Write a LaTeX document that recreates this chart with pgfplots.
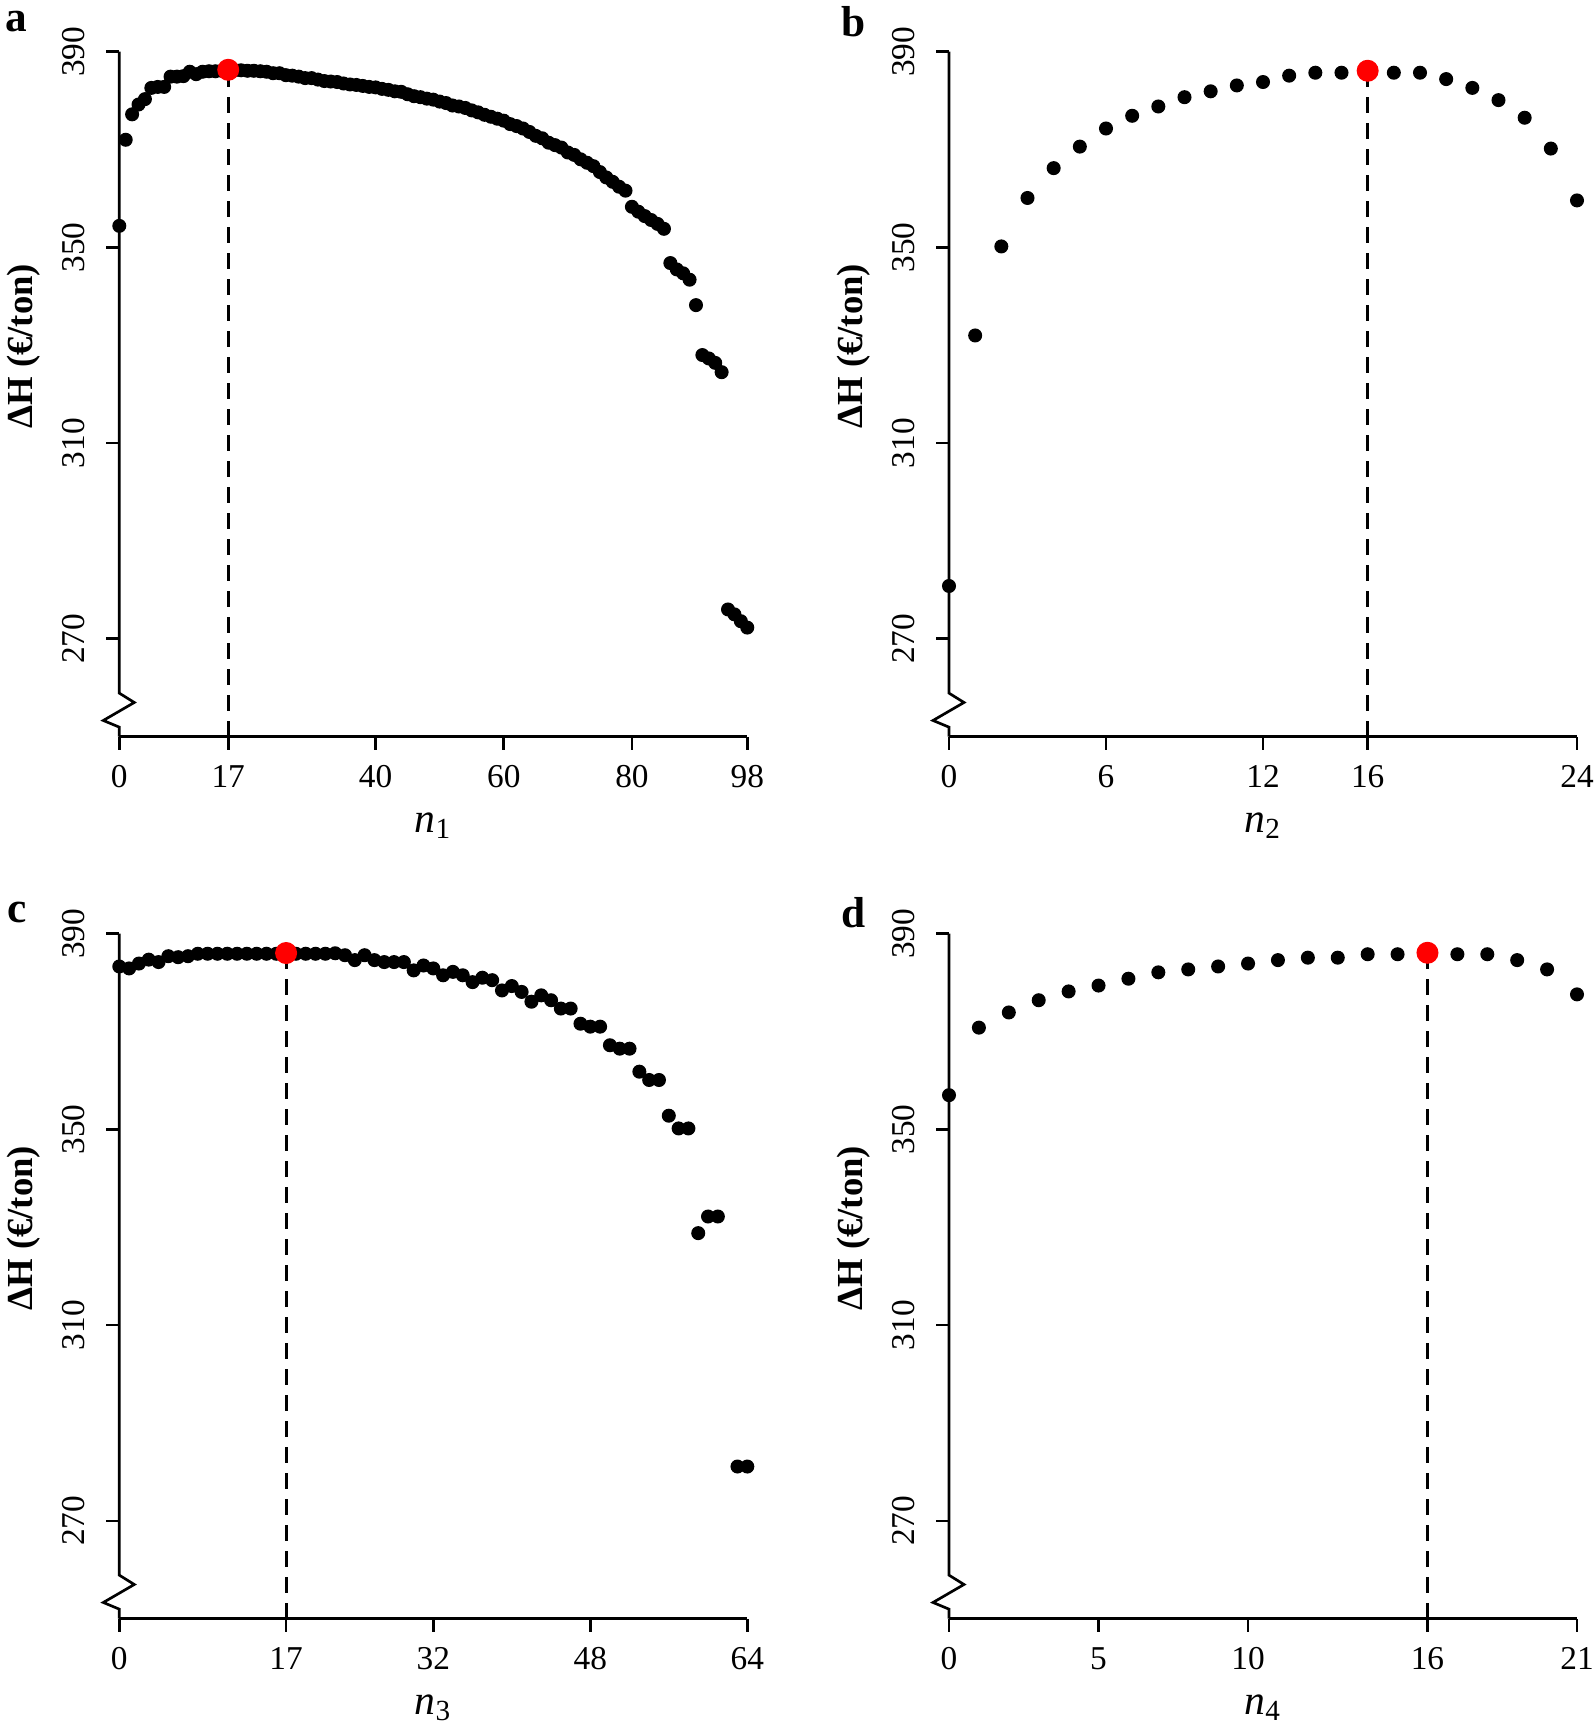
\documentclass[border=0pt]{standalone}
\usepackage{fontspec}
\setmainfont{Liberation Serif}
\usepackage{pgfplots}
\pgfplotsset{compat=1.18}

\pgfplotsset{
 panel/.style={
   scale only axis, width=188.4pt, height=205.5pt,
   ymin=250, ymax=390, ytick={270,310,350,390},
   enlargelimits=false, clip=false,
   axis x line=bottom, axis y line=left,
   axis line style={-, line width=0.8pt},
   y axis line style={draw=none},
   every tick/.style={black, line width=0.8pt},
   tick align=outside, major tick length=3.9pt,
   /pgf/number format/assume math mode=true,
   tick label style={font=\fontsize{10}{12}\selectfont},
   yticklabel style={rotate=90, anchor=south, inner xsep=0pt, inner ysep=6.2pt},
   xticklabel style={anchor=north, inner xsep=0pt, inner ysep=4.6pt},
   xlabel style={font=\fontsize{12.5}{14}\selectfont, at={(axis description cs:0.5,-0.13)}, anchor=center},
   ylabel style={font=\bfseries\fontsize{11}{13}\selectfont, at={(axis description cs:-0.152,0.57)}, anchor=center},
   ylabel={ΔH (€/ton)},
 },
 blk/.style={only marks, mark=*, mark size=1.9pt, black, mark options={draw=black, fill=black}},
 redpt/.style={only marks, mark=*, mark size=3.1pt, red, mark options={draw=red, fill=red}},
 vline/.style={black, line width=0.85pt, dash pattern=on 4.8pt off 3pt, no marks},
}
\newcommand{\brk}{\draw[line width=0.8pt] (axis cs:0,390) -- (axis cs:0,258.9) -- ++(4.5pt,-2.8pt) -- ++(-9.3pt,-5.4pt) -- ++(4.8pt,-2.0pt) -- (axis cs:0,250);}

\begin{document}
\begin{tikzpicture}
\path[use as bounding box] (0,0) rectangle (478.2pt,519.6pt);

% ---------- a ----------
\begin{axis}[panel, at={(35.79pt,298.59pt)}, anchor=south west,
  xmin=0, xmax=98, xtick={0,17,40,60,80,98},
  xlabel={\textit{n}\textsubscript{1}}]
\brk
\addplot[vline] coordinates {(17,250) (17,386.3)};
\addplot[blk] coordinates {
(0,354.4) (1,372.0) (2,377.2) (3,379.2) (4,380.3) (5,382.6) (6,382.8) (7,382.8)
(8,384.9) (9,384.9) (10,385.0) (11,385.9) (12,385.4) (13,385.9) (14,386.0) (15,386.0)
(16,386.1) (18,386.2) (19,386.2) (20,386.1) (21,386.1) (22,386.0) (23,385.9)
(24,385.6) (25,385.6) (26,385.2) (27,385.1) (28,384.9) (29,384.6) (30,384.6) (31,384.3)
(32,384.0) (33,383.9) (34,383.8) (35,383.5) (36,383.3) (37,383.2) (38,383.0) (39,382.8)
(40,382.7) (41,382.4) (42,382.2) (43,381.9) (44,381.8) (45,381.3) (46,380.9) (47,380.7)
(48,380.4) (49,380.2) (50,379.8) (51,379.5) (52,379.0) (53,378.8) (54,378.5) (55,378.0)
(56,377.6) (57,377.1) (58,376.7) (59,376.3) (60,375.9) (61,375.2) (62,374.8) (63,374.3)
(64,373.6) (65,372.8) (66,372.3) (67,371.4) (68,370.9) (69,370.4) (70,369.4) (71,368.9)
(72,368.0) (73,367.3) (74,366.6) (75,365.4) (76,364.3) (77,363.4) (78,362.4) (79,361.6)
(80,358.3) (81,357.3) (82,356.4) (83,355.6) (84,354.8) (85,353.8)
(86,346.8) (87,345.5) (88,344.7) (89,343.4) (90,338.2)
(91,328.0) (92,327.3) (93,326.4) (94,324.5)
(95,276.0) (96,275.0) (97,273.6) (98,272.3)};
\addplot[redpt] coordinates {(17,386.3)};
\end{axis}

% ---------- b ----------
\begin{axis}[panel, at={(284.7pt,298.59pt)}, anchor=south west,
  xmin=0, xmax=24, xtick={0,6,12,16,24},
  xlabel={\textit{n}\textsubscript{2}}]
\brk
\addplot[vline] coordinates {(16,250) (16,386.1)};
\addplot[blk] coordinates {
(0,280.8) (1,332.0) (2,350.2) (3,360.1) (4,366.2) (5,370.6) (6,374.3) (7,376.9)
(8,378.8) (9,380.7) (10,381.9) (11,383.1) (12,383.8) (13,385.1) (14,385.7) (15,385.7)
(17,385.7) (18,385.7) (19,384.4) (20,382.6) (21,380.1) (22,376.5) (23,370.2) (24,359.6)};
\addplot[redpt] coordinates {(16,386.1)};
\end{axis}

% ---------- c ----------
\begin{axis}[panel, at={(35.79pt,33.99pt)}, anchor=south west,
  xmin=0, xmax=64, xtick={0,17,32,48,64},
  xlabel={\textit{n}\textsubscript{3}}]
\brk
\addplot[vline] coordinates {(17,250) (17,386.05)};
\addplot[blk] coordinates {
(0,383.3) (1,382.9) (2,383.9) (3,384.7) (4,384.2) (5,385.4) (6,385.2) (7,385.4)
(8,385.9) (9,385.9) (10,385.9) (11,385.9) (12,385.9) (13,385.9) (14,385.9) (15,385.9)
(16,385.9) (18,385.9) (19,385.9) (20,385.9) (21,385.9) (22,386.0) (23,385.6)
(24,384.6) (25,385.6) (26,384.6) (27,384.2) (28,384.2) (29,384.2) (30,382.5) (31,383.5)
(32,382.9) (33,381.5) (34,382.2) (35,381.5) (36,380.1) (37,381.0) (38,380.5) (39,378.4)
(40,379.3) (41,378.1) (42,376.1) (43,377.4) (44,376.4) (45,374.7) (46,374.7)
(47,371.6) (48,371.0) (49,371.0) (50,367.2) (51,366.5) (52,366.5)
(53,361.8) (54,360.1) (55,360.1) (56,352.8) (57,350.2) (58,350.2)
(59,328.8) (60,332.2) (61,332.2) (63,281.1) (64,281.1)};
\addplot[redpt] coordinates {(17,386.05)};
\end{axis}

% ---------- d ----------
\begin{axis}[panel, at={(284.7pt,33.99pt)}, anchor=south west,
  xmin=0, xmax=21, xtick={0,5,10,16,21},
  xlabel={\textit{n}\textsubscript{4}}]
\brk
\addplot[vline] coordinates {(16,250) (16,386.1)};
\addplot[blk] coordinates {
(0,357.0) (1,370.8) (2,373.9) (3,376.4) (4,378.2) (5,379.4) (6,380.8) (7,382.1)
(8,382.7) (9,383.3) (10,383.9) (11,384.6) (12,385.1) (13,385.1) (14,385.8) (15,385.8)
(17,385.8) (18,385.8) (19,384.6) (20,382.7) (21,377.6)};
\addplot[redpt] coordinates {(16,386.1)};
\end{axis}

\node[font=\bfseries\fontsize{13}{15}\selectfont] at (5pt,513pt) {a};
\node[font=\bfseries\fontsize{13}{15}\selectfont] at (256.2pt,513pt) {b};
\node[font=\bfseries\fontsize{13}{15}\selectfont] at (5pt,245.8pt) {c};
\node[font=\bfseries\fontsize{13}{15}\selectfont] at (256.2pt,245.8pt) {d};
\end{tikzpicture}
\end{document}
